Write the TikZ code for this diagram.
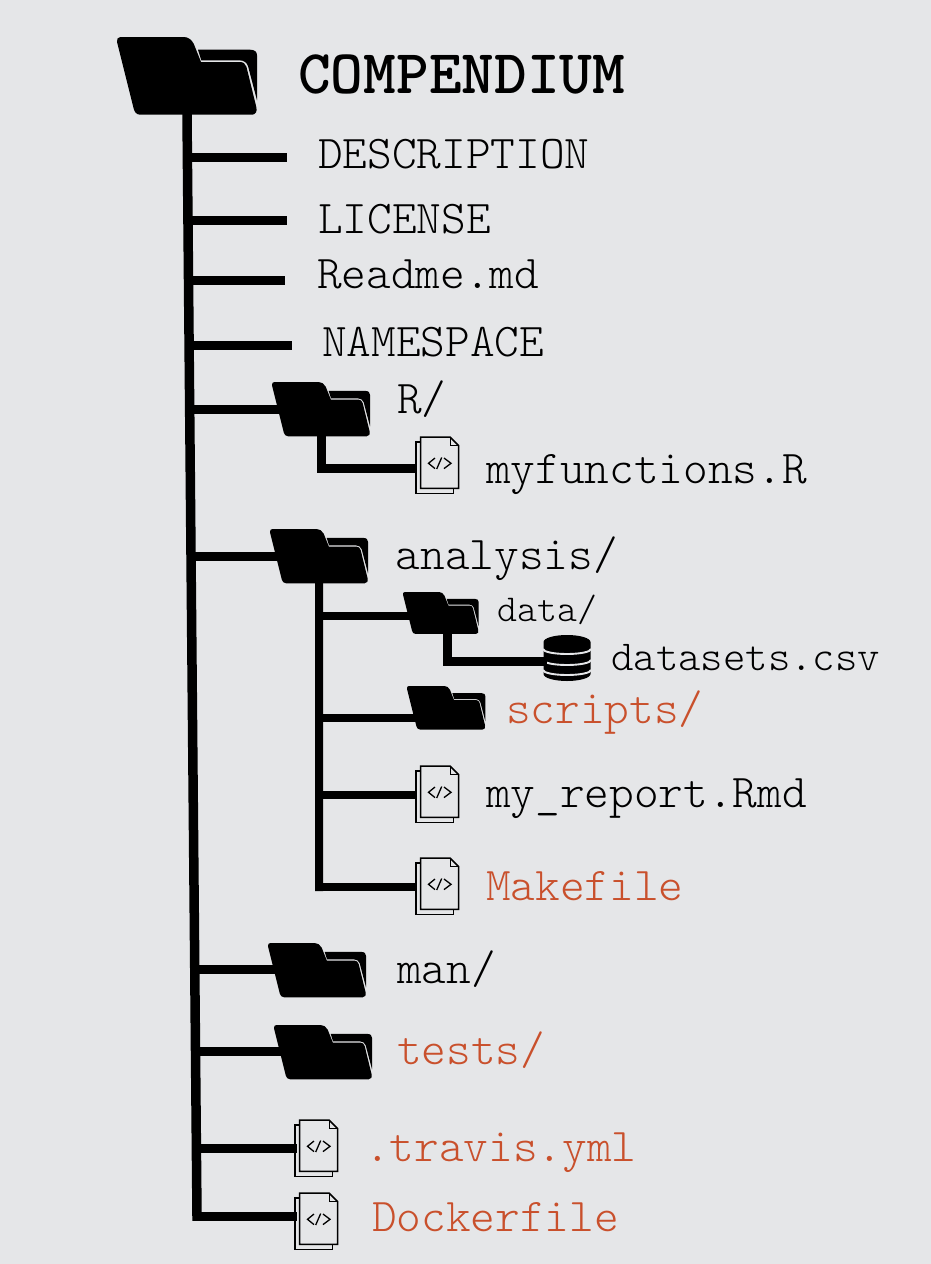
\documentclass[tikz,border=0pt]{standalone}
\usepackage{xcolor}
\usepackage{fontspec}
\setmonofont{Latin Modern Mono Light}
\usetikzlibrary{calc}
\definecolor{panelgray}{HTML}{E5E6E8}
\definecolor{addedred}{HTML}{C9502C}
\tikzset{
  trunk/.style={line width=9.5pt, line cap=rect},
  branch/.style={line width=9pt},
  subbranch/.style={line width=8pt},
  filelabel/.style={anchor=base west, inner sep=0pt, font=\fontsize{47}{50}\selectfont\ttfamily},
  newlabel/.style={filelabel, text=addedred},
  folder/.pic={
    % back flap, then front sheet
    \fill (84.3,23.4) -- (81,12.7) -- (133,12.7) .. controls (138,12.7) and (140,15) .. (140,18.3)
      -- (140,63.3) -- (131,29) .. controls (129.5,25.4) and (127,23.4) .. (123,23.4) -- cycle;
    \fill (0,5) .. controls (-0.5,2) and (1,0) .. (3.3,0) -- (66.7,0)
      .. controls (71,0) and (74.5,2.5) .. (76.7,6.7) -- (84,25) -- (123,25)
      .. controls (126.5,25) and (128.5,27) .. (129.5,30) -- (139.3,70)
      .. controls (140.5,74.5) and (138.5,77.7) .. (135,77.7) -- (23.3,77.7)
      .. controls (19.5,77.7) and (17.5,75) .. (16.7,71.7) -- cycle;
    \coordinate (-c) at (70,38);
    \coordinate (-s) at (70,77);
  },
  docfile/.pic={
    \draw[line width=1.5pt] (5,5) -- (0,5) -- (0,56.5) -- (37.7,56.5) -- (37.7,51.3);
    \draw[line width=1.5pt] (4.7,0) -- (34,0) -- (42.7,8.7) -- (42.7,51.3) -- (4.7,51.3) -- cycle;
    \draw[line width=1pt] (34,0) -- (34,8.7) -- (42.7,8.7);
    % code sign
    \draw[line width=1.3pt] (19,21) -- (12.5,26.3) -- (19,31.6);
    \draw[line width=1.3pt] (25.7,20.5) -- (20.7,32);
    \draw[line width=1.3pt] (28,21) -- (35,26.3) -- (28,31.6);
    \coordinate (-w) at (0,31);
  },
  dbstack/.pic={
    \fill (-23.5,7) arc[start angle=180, end angle=360, x radius=23.5, y radius=7]
      -- (23.5,39) arc[start angle=0, end angle=180, x radius=23.5, y radius=7] -- cycle;
    \foreach \yy in {14,25,35}
      \draw[panelgray, line width=1.9pt] (-24,\yy) arc[start angle=180, end angle=0, x radius=24, y radius=5];
    \coordinate (-w) at (-20,26.5);
  },
}

\begin{document}
\begin{tikzpicture}[x=1pt, y=-1pt]
  % Background
  \fill[panelgray] (0,0) rectangle (931,1264);
  \useasboundingbox (0,0) rectangle (931,1264);

  % Folders
  \pic (root) at (117,37) {folder};
  \pic[scale=0.7] (Rdir) at (272,382) {folder};
  \pic[scale=0.7] (anadir) at (270,529) {folder};
  \pic[scale=0.54] (datadir) at (403,592) {folder};
  \pic[scale=0.56] (scriptsdir) at (407,686) {folder};
  \pic[scale=0.7] (mandir) at (268,943) {folder};
  \pic[scale=0.7] (testsdir) at (274,1025) {folder};

  % Files
  \pic (funcs) at (416,437) {docfile};
  \pic (report) at (416,766) {docfile};
  \pic (makef) at (416,858) {docfile};
  \pic (travis) at (295,1120) {docfile};
  \pic (docker) at (295,1193) {docfile};
  \pic (csv) at (567,635) {dbstack};

  % Main stem, slightly leaning, and its side branches
  \foreach \n/\y/\xe in {desc/157/287, lic/220/287, readme/280/285, nspace/345/292, Rb/409/290,
      anab/556/290, manb/969/290, testsb/1051/290, travisb/1148/297, dockerb/1216/297}{
    \coordinate (t\n) at ({187+(\y-112)*10/1104},\y);
    \coordinate (e\n) at (\xe,\y);
    \draw[branch] (t\n) -- (e\n);
  }
  \draw[trunk] (root-s) -- (tdockerb);

  % R/ subtree
  \draw[line width=9pt] (Rdir-s) |- (funcs-w);

  % analysis/ subtree
  \coordinate (anabot) at (319,891);
  \draw[subbranch] (anadir-s) -- (anabot);
  \coordinate (anadata) at (319,616);
  \coordinate (anascripts) at (319,718);
  \coordinate (anareport) at (319,795);
  \coordinate (anamake) at (319,887);
  \draw[subbranch] (anadata) -- (anadata -| datadir-c);
  \draw[subbranch] (anascripts) -- (anascripts -| scriptsdir-c);
  \draw[subbranch] (anareport) -- (anareport -| report-w);
  \draw[subbranch] (anamake) -- (anamake -| makef-w);

  % data/ subtree
  \coordinate (datadrop) at (447,630);
  \draw[line width=9pt] (datadrop) |- (csv-w);

  % Labels
  \node[filelabel, font=\fontsize{62.3}{66}\selectfont\ttfamily\bfseries] (title) at (298,93) {COMPENDIUM};
  \node[filelabel] (desclab) at (318,168) {DESCRIPTION};
  \node[filelabel] (liclab) at (318,233) {LICENSE};
  \node[filelabel] (readlab) at (317,288) {Readme.md};
  \node[filelabel] (nslab) at (322,356) {NAMESPACE};
  \node[filelabel] (Rlab) at (397,413) {R/};
  \node[filelabel] (funclab) at (486,483) {myfunctions.R};
  \node[filelabel] (analab) at (395.5,569) {analysis/};
  \node[filelabel, font=\fontsize{38}{42}\selectfont\ttfamily] (datalab) at (497,621) {data/};
  \node[filelabel, font=\fontsize{42.7}{46}\selectfont\ttfamily] (csvlab) at (611,670) {datasets.csv};
  \node[newlabel] (scriptlab) at (506,723) {scripts/};
  \node[filelabel] (replab) at (486,807) {my\_report.Rmd};
  \node[newlabel] (makelab) at (486,900) {Makefile};
  \node[filelabel] (manlab) at (397,983) {man/};
  \node[newlabel] (testlab) at (397,1064) {tests/};
  \node[newlabel] (travlab) at (365,1161) {.travis.yml};
  \node[newlabel] (docklab) at (372,1231) {Dockerfile};
\end{tikzpicture}
\end{document}
